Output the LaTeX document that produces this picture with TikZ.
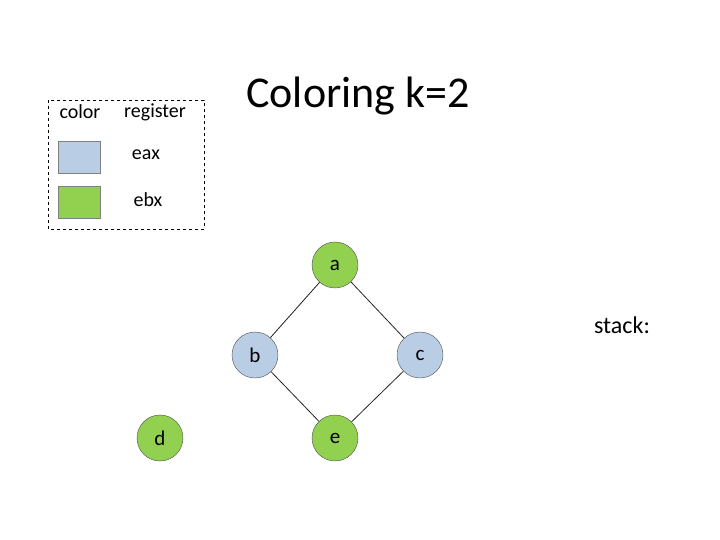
\documentclass[tikz,border=0pt]{standalone}
\usepackage{fontspec}
\setmainfont{Carlito}
\definecolor{regblue}{HTML}{B9CDE5}
\definecolor{reggreen}{HTML}{92D050}
\begin{document}
\begin{tikzpicture}[x=1pt, y=-1pt,
    vertex/.style={circle, draw=black!70, minimum size=46pt, inner sep=0pt, font=\fontsize{21}{24}\selectfont},
    swatch/.style={draw=black!50, minimum width=42pt, minimum height=32pt, inner sep=0pt},
    legtext/.style={font=\fontsize{20}{24}\selectfont},
    edge/.style={black!85, thick}]
    \useasboundingbox (0,0) rectangle (720,540);

    % Legend
    \draw[dashed] (48,100) rectangle (204,229);
    \node[legtext] (colhead) at (80,112) {color};
    \node[legtext] (reghead) at (155,112) {register};
    \node[swatch, fill=regblue] (sweax) at (79,157) {};
    \node[swatch, fill=reggreen] (swebx) at (79,202) {};
    \node[legtext] (eax) at (146,155) {eax};
    \node[legtext] (ebx) at (148,200) {ebx};

    % Title
    \node[font=\fontsize{44}{50}\selectfont] (title) at (358,96) {Coloring k=2};

    % Interference graph
    \node[vertex, fill=reggreen] (a) at (335,265) {a};
    \node[vertex, fill=regblue] (b) at (255,355) {b};
    \node[vertex, fill=regblue] (c) at (420,355) {c};
    \node[vertex, fill=reggreen] (d) at (160,438) {d};
    \node[vertex, fill=reggreen] (e) at (335,438) {e};
    \draw[edge] (a) -- (b);
    \draw[edge] (a) -- (c);
    \draw[edge] (b) -- (e);
    \draw[edge] (c) -- (e);

    \node[font=\fontsize{24}{28}\selectfont] (stack) at (622,325) {stack:};
\end{tikzpicture}
\end{document}
